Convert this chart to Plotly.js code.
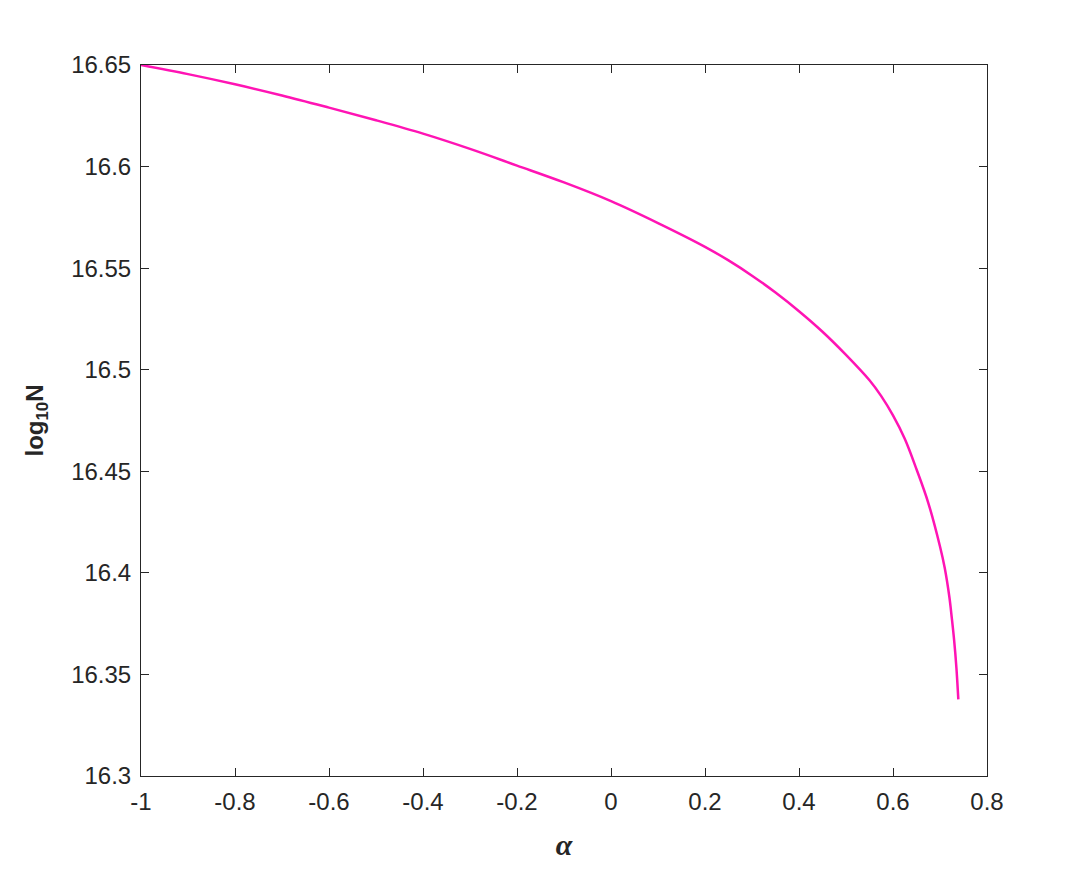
<!DOCTYPE html>
<html>
<head>
<meta charset="utf-8">
<script src="https://cdn.plot.ly/plotly-3.0.1.min.js"></script>
<style>
  html, body { margin: 0; padding: 0; background: #fff; }
  #graph { width: 1090px; height: 872px; }
</style>
</head>
<body>
<div id="graph"></div>
<script>
// alpha vs log10 N
var alpha = [-1, -0.9, -0.8, -0.7, -0.6, -0.5, -0.4, -0.3, -0.2, -0.1, 0, 0.1, 0.2,
	0.25, 0.3, 0.35, 0.4, 0.45, 0.5, 0.55, 0.575, 0.6, 0.625, 0.65, 0.675, 0.7, 0.71, 0.72, 0.725, 0.73, 0.735, 0.739];
var logN = [16.6500, 16.6455, 16.6405, 16.6350, 16.6290, 16.6228, 16.6162, 16.6087, 16.6005, 16.5922, 16.5830,
	16.5722, 16.5605,
	16.5538, 16.5463, 16.5380, 16.5288, 16.5187, 16.5073, 16.4948, 16.4870, 16.4775, 16.4660, 16.4510, 16.4345,
	16.4130, 16.4025, 16.3880, 16.3780, 16.3670, 16.3530, 16.3377];

var xTicks = [-1, -0.8, -0.6, -0.4, -0.2, 0, 0.2, 0.4, 0.6, 0.8];
var xTickText = ['-1', '-0.8', '-0.6', '-0.4', '-0.2', '0', '0.2', '0.4', '0.6', '0.8'];
var yTicks = [16.3, 16.35, 16.4, 16.45, 16.5, 16.55, 16.6, 16.65];
var yTickText = ['16.3', '16.35', '16.4', '16.45', '16.5', '16.55', '16.6', '16.65'];

var data = [{
	x: alpha,
	y: logN,
	type: 'scatter',
	mode: 'lines',
	line: {color: '#ff14b4', width: 2.5, shape: 'spline', smoothing: 1},
	hoverinfo: 'skip'
}];

var axisCommon = {
	showgrid: false,
	zeroline: false,
	showline: true,
	linecolor: '#262626',
	linewidth: 1,
	mirror: 'ticks',
	ticks: 'inside',
	ticklen: 8,
	tickwidth: 1,
	tickcolor: '#262626',
	tickfont: {family: 'Liberation Sans, Arial, sans-serif', size: 24, color: '#262626'},
	tickmode: 'array'
};

var layout = {
	width: 1090,
	height: 872,
	margin: {l: 141, r: 103, t: 65, b: 96},
	paper_bgcolor: '#fff',
	plot_bgcolor: '#fff',
	showlegend: false,
	xaxis: Object.assign({}, axisCommon, {
		range: [-1, 0.8],
		tickvals: xTicks,
		ticktext: xTickText,
		ticklabelstandoff: 4,
		title: {
			text: '<b><i>α</i></b>',
			font: {family: 'Liberation Serif, DejaVu Serif, serif', size: 30, color: '#262626'},
			standoff: 20
		}
	}),
	yaxis: Object.assign({}, axisCommon, {
		range: [16.3, 16.65],
		tickvals: yTicks,
		ticktext: yTickText,
		ticklabelstandoff: 4,
		title: {
			text: '<b>log<sub>10</sub>N</b>',
			font: {family: 'Liberation Sans, Arial, sans-serif', size: 24, color: '#262626'},
			standoff: 20
		}
	})
};

Plotly.newPlot('graph', data, layout, {staticPlot: true});
</script>
</body>
</html>
